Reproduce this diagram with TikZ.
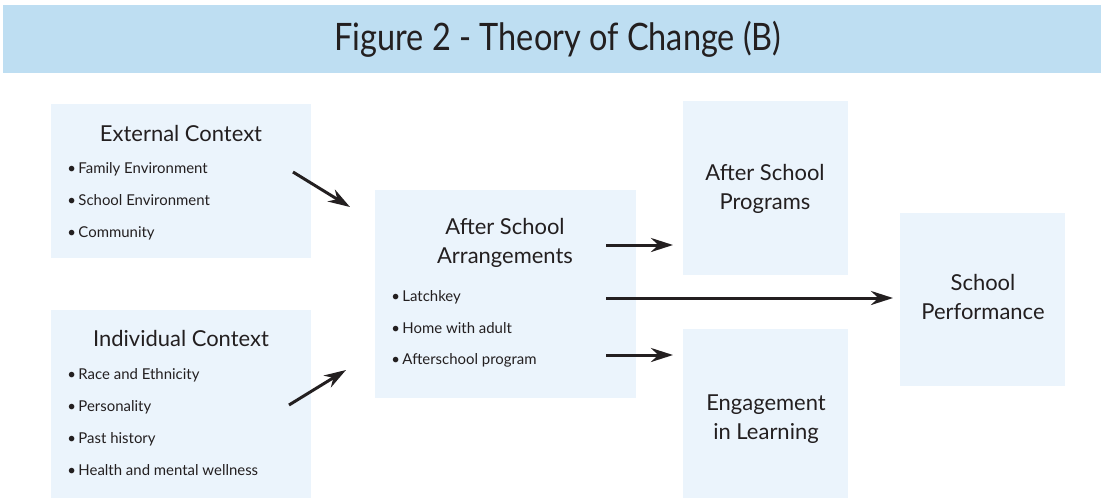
\documentclass[tikz,border=0pt]{standalone}
\usepackage{fontspec}
\setmainfont{Lato}
\newfontfamily\titlefont[FakeStretch=0.86]{Lato}
\usetikzlibrary{arrows.meta,fit,positioning}
\definecolor{bandblue}{RGB}{190,222,242}
\definecolor{boxblue}{RGB}{235,244,252}
\definecolor{ink}{RGB}{35,31,32}
\newcommand{\itm}{\textbullet\kern1.4pt}
\tikzset{
  box/.style={fill=boxblue, inner sep=0pt},
  head/.style={font=\fontsize{12.5}{16.4}\selectfont, text=ink, align=center},
  items/.style={font=\fontsize{8.5}{18.1}\selectfont, text=ink, align=left, anchor=west, inner sep=0pt},
  flow/.style={draw=ink, line width=1.7pt, -{Stealth[length=0.44cm,width=0.28cm]}}
}

\begin{document}
\begin{tikzpicture}[x=0.02cm,y=-0.02cm]
\useasboundingbox (0,0) rectangle (1101,498);
\node[box, fill=bandblue, fit={(3,5) (1101,73)}] (band) {};
\node[text=ink, font=\titlefont\fontsize{21.5}{24}\selectfont] (title) at (558,39) {Figure 2 - Theory of Change (B)};

\node[box, fit={(51,104) (311,258)}] (ext) {};
\node[box, fit={(51,310) (311,498)}] (ind) {};
\node[box, fit={(375,190) (636,398)}] (arr) {};
\node[box, fit={(683,101) (848,275)}] (prog) {};
\node[box, fit={(683,329) (848,498)}] (eng) {};
\node[box, fit={(900,213) (1065,386)}] (perf) {};

\node[head] (ext-head) at (181,133) {External Context};
\node[items] (ext-list) at (67,201) {\itm Family Environment\\ \itm School Environment\\ \itm Community};
\node[head] (ind-head) at (181,338) {Individual Context};
\node[items] (ind-list) at (67,422) {\itm Race and Ethnicity\\ \itm Personality\\ \itm Past history\\ \itm Health and mental wellness};
\node[head] (arr-head) at (505,243) {After School\\Arrangements};
\node[items] (arr-list) at (391,329) {\itm Latchkey\\ \itm Home with adult\\ \itm Afterschool program};
\node[head] (prog-head) at (765,189) {After School\\Programs};
\node[head] (eng-head) at (766,419) {Engagement\\in Learning};
\node[head] (perf-head) at (983,297) {School\\Performance};

% arrow ends
\coordinate (ext-out) at (293,172);
\coordinate (arr-in1) at (350,207);
\coordinate (ind-out) at (289,405);
\coordinate (arr-in2) at (346,370);
\coordinate (arr-out1) at (606,245);
\coordinate (prog-in) at (673,245);
\coordinate (arr-out2) at (606,298);
\coordinate (perf-in) at (893,298);
\coordinate (arr-out3) at (606,355);
\coordinate (eng-in) at (673,355);

\draw[flow] (ext-out) -- (arr-in1);
\draw[flow] (ind-out) -- (arr-in2);
\draw[flow] (arr-out1) -- (prog-in);
\draw[flow] (arr-out2) -- (perf-in);
\draw[flow] (arr-out3) -- (eng-in);
\end{tikzpicture}
\end{document}
